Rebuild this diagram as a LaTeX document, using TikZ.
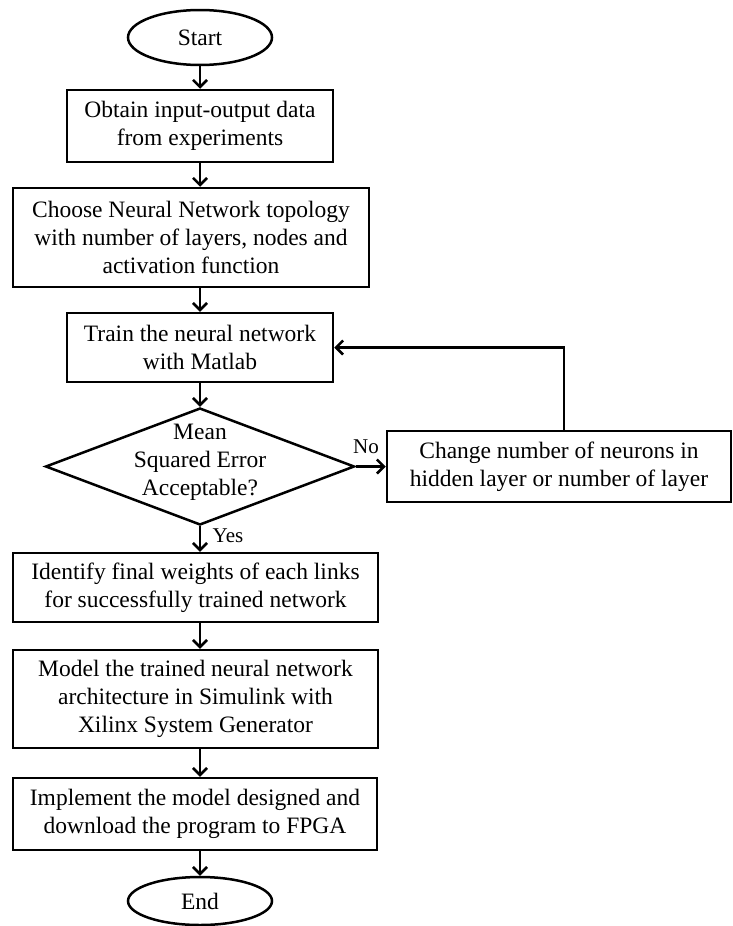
\documentclass[tikz,border=0pt]{standalone}
\usepackage{fontspec}
\setmainfont{Liberation Serif}
\usetikzlibrary{shapes.geometric,arrows.meta}
\begin{document}
\begin{tikzpicture}[x=1pt,y=-1pt,
  every node/.style={font=\fontsize{23.5}{28}\selectfont},
  box/.style={draw, line width=2.5pt, rectangle, align=center, inner sep=0pt},
  term/.style={draw, line width=2.5pt, ellipse, inner sep=0pt},
  decision/.style={draw, line width=2.5pt, diamond, inner sep=0pt},
  arr/.style={line width=2.5pt, -{Straight Barb[length=7pt,width=14pt,line width=2.5pt]}},
  lab/.style={font=\fontsize{21}{24}\selectfont, inner sep=0pt}]
\useasboundingbox (0,0) rectangle (732,926);
\node[term, minimum width=144pt, minimum height=55pt] (start) at (200,37.5) {Start};
\node[box, minimum width=266pt, minimum height=72pt] (b1) at (200,126) {Obtain input-output data\\from experiments};
\node[box, minimum width=356pt, minimum height=99pt] (b2) at (191,237.5) {Choose Neural Network topology\\with number of layers, nodes and\\activation function};
\node[box, minimum width=266pt, minimum height=69pt] (train) at (200,347.5) {Train the neural network\\with Matlab};
\node[decision, minimum width=309pt, minimum height=117pt] (dec) at (200,466.5) {};
\node[align=center, inner sep=0pt] (dectext) at (200,462) {Mean\\Squared Error\\Acceptable?};
\node[box, minimum width=344pt, minimum height=71pt] (change) at (559,466.5) {Change number of neurons in\\hidden layer or number of layer};
\node[box, minimum width=365pt, minimum height=69pt] (b4) at (195.5,587.5) {Identify final weights of each links\\for successfully trained network};
\node[box, minimum width=365pt, minimum height=98pt] (b5) at (195.5,699) {Model the trained neural network\\architecture in Simulink with\\Xilinx System Generator};
\node[box, minimum width=364pt, minimum height=72pt] (b6) at (195,814) {Implement the model designed and\\download the program to FPGA};
\node[term, minimum width=144pt, minimum height=48pt] (end) at (200,901) {End};
\node[lab] (no) at (366,447) {No};
\node[lab] (yes) at (228,536) {Yes};
\coordinate (fb) at (564,348);
\draw[arr] (start.south) -- (b1.north);
\draw[arr] (b1.south) -- (b1.south |- b2.north);
\draw[arr] (b2.south -| train.north) -- (train.north);
\draw[arr] (train.south) -- (dec.north);
\draw[arr] (dec.east) -- (change.west);
\draw[arr] (dec.south) -- (dec.south |- b4.north);
\draw[arr] (b4.south -| dec.south) -- (b5.north -| dec.south);
\draw[arr] (b5.south -| dec.south) -- (b6.north -| dec.south);
\draw[arr] (b6.south -| dec.south) -- (end.north);
\draw[arr] (change.north -| fb) |- (train.east);
\end{tikzpicture}
\end{document}
